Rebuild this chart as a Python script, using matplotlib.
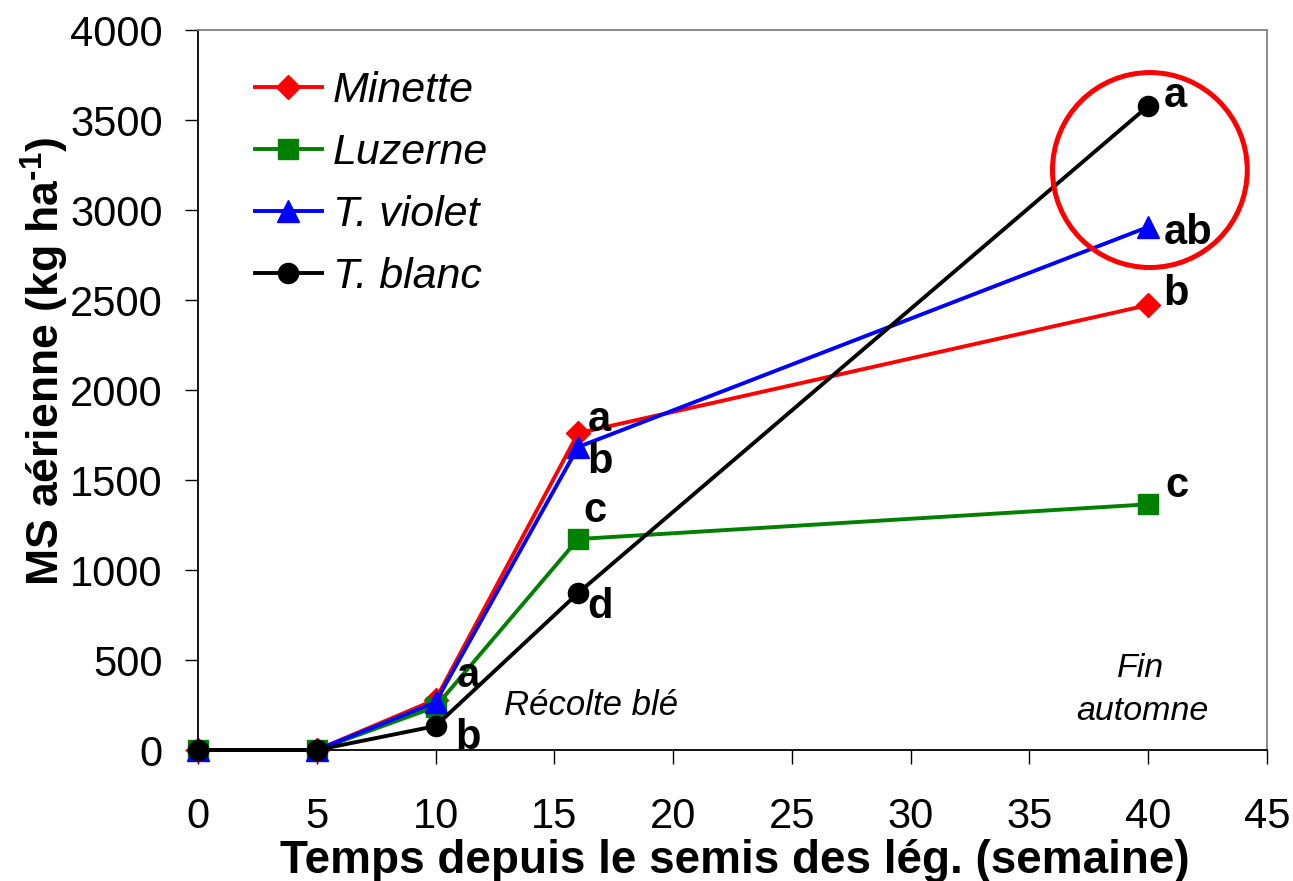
import matplotlib
matplotlib.use("Agg")
import matplotlib.pyplot as plt
from matplotlib.patches import Ellipse

plt.rcParams['font.family'] = ['Liberation Sans', 'DejaVu Sans']
plt.rcParams['mathtext.fontset'] = 'custom'
plt.rcParams['mathtext.rm'] = 'Liberation Sans:bold'
plt.rcParams['mathtext.bf'] = 'Liberation Sans:bold'

weeks = [0, 5, 10, 16, 40]
minette = [0, 0, 280, 1760, 2472]
luzerne = [0, 0, 240, 1172, 1365]
violet = [0, 0, 265, 1683, 2906]
blanc = [0, 0, 133, 872, 3578]

series = [
    ("Minette", minette, "#ff0000", "D", 12),
    ("Luzerne", luzerne, "#008000", "s", 14.5),
    ("T. violet", violet, "#0000ff", "^", 16.5),
    ("T. blanc", blanc, "#000000", "o", 14.5),
]

# significance letters: (series values, index, letter, dx pt, dy pt)
letters = [
    (blanc, 4, "a", 11, -1),
    (violet, 4, "ab", 11, -12),
    (minette, 4, "b", 11, 0),
    (luzerne, 4, "c", 12, 5),
    (minette, 3, "a", 7, 1.5),
    (violet, 3, "b", 6.5, -19),
    (luzerne, 3, "c", 4, 12),
    (blanc, 3, "d", 6.5, -18),
    (violet, 2, "a", 15, 11),
    (blanc, 2, "b", 14, -16.5),
]

xticks = list(range(0, 46, 5))
yticks = list(range(0, 4001, 500))

fig = plt.figure(figsize=(12.93, 8.81), dpi=100)
ax = fig.add_axes([198/1293, 131/881, 1069/1293, 720/881])

for name, vals, col, mk, ms in series:
    ax.plot(weeks, vals, color=col, lw=2.8, marker=mk, ms=ms,
            markerfacecolor=col, markeredgecolor=col, markeredgewidth=1,
            label=name, clip_on=False)

for vals, i, txt, dx, dy in letters:
    ax.annotate(txt, xy=(weeks[i], vals[i]), xytext=(dx, dy),
                textcoords="offset points", ha="left", va="baseline",
                fontsize=30, fontweight="bold", color="black")

circ = Ellipse((40.07, 3222), 8.2, 1083, fill=False, edgecolor="#ff0000",
               lw=3.6, zorder=5)
ax.add_patch(circ)

ax.set_xlim(0, 45)
ax.set_ylim(0, 4000)
ax.set_xticks(xticks)
ax.set_yticks(yticks)
ax.tick_params(axis="x", direction="out", length=10, width=1, pad=24,
               labelsize=30, colors="black")
ax.tick_params(axis="y", direction="out", length=9.4, width=1, pad=16,
               labelsize=30, colors="black")
for s in ["top", "right"]:
    ax.spines[s].set_color("#808080")
    ax.spines[s].set_linewidth(1.3)
for s in ["left", "bottom"]:
    ax.spines[s].set_color("black")
    ax.spines[s].set_linewidth(1.3)

ax.text((591-198)/1069, (750-715)/720, "Récolte blé",
        transform=ax.transAxes, ha="center", va="baseline",
        fontsize=25, fontstyle="italic")
ax.text((1141-198)/1069, (750-677)/720, "Fin", transform=ax.transAxes,
        ha="center", va="baseline", fontsize=24.5, fontstyle="italic")
ax.text((1142-198)/1069, (750-720)/720, "automne", transform=ax.transAxes,
        ha="center", va="baseline", fontsize=24.5, fontstyle="italic")

leg = ax.legend(loc="upper left", bbox_to_anchor=((255-198)/1069, (750-71)/720),
                frameon=False, prop={"style": "italic", "size": 31},
                handlelength=1.55, handletextpad=0.26, labelspacing=0.51,
                borderpad=0, borderaxespad=0)

fig.text(735/1293, 1-873/881, "Temps depuis le semis des lég. (semaine)",
         ha="center", va="baseline", fontsize=33, fontweight="bold")
fig.text(45/1293, 1-361/881, "MS aérienne (kg ha$^{\\text{-1}}$)",
         ha="center", va="center", rotation=90, fontsize=32, fontweight="bold")

fig.savefig("out.png", dpi=100)
